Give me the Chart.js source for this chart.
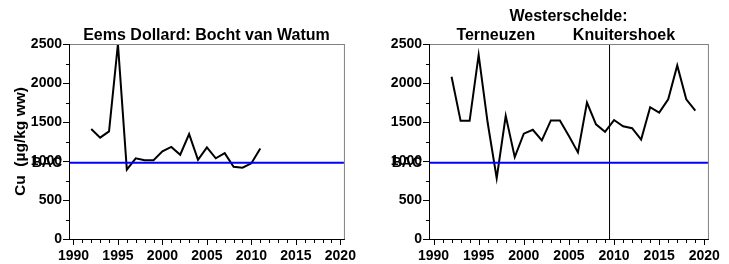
<!DOCTYPE html>
<html>
<head>
<meta charset="utf-8">
<script src="https://cdn.jsdelivr.net/npm/chart.js@4.4.0/dist/chart.umd.min.js"></script>
<style>
  body { margin: 0; background: #fff; width: 729px; height: 264px; overflow: hidden; position: relative; }
  canvas { position: absolute; top: 0; }
  #eemsChart { left: 0; }
  #wsChart { left: 365px; }
</style>
</head>
<body>
<canvas id="eemsChart" width="365" height="264"></canvas>
<canvas id="wsChart" width="364" height="264"></canvas>
<script>
// Eems Dollard: Bocht van Watum
const eemsYears = [1992, 1993, 1994, 1995, 1996, 1997, 1998, 1999, 2000, 2001,
                   2002, 2003, 2004, 2005, 2006, 2007, 2008, 2009, 2010, 2011];
const eemsCu = [1410, 1300, 1380, 2500, 890, 1035, 1010, 1010, 1125, 1180,
                1080, 1345, 1015, 1175, 1035, 1100, 925, 915, 970, 1160];

// Westerschelde: Terneuzen (tot 2009), Knuitershoek (vanaf 2010)
const wsYears = [1992, 1993, 1994, 1995, 1996, 1997, 1998, 1999, 2000, 2001,
                 2002, 2003, 2004, 2005, 2006, 2007, 2008, 2009, 2010, 2011,
                 2012, 2013, 2014, 2015, 2016, 2017, 2018, 2019];
const wsCu = [2080, 1515, 1515, 2360, 1490, 780, 1580, 1050, 1350, 1400,
              1265, 1520, 1520, 1320, 1110, 1750, 1470, 1375, 1525, 1445,
              1420, 1275, 1690, 1620, 1790, 2225, 1790, 1645];

const bacValue = 978;          // blue reference line (BAC)
const stationSwitch = 2009.5;  // Terneuzen -> Knuitershoek
const xTickLabels = [1990, 1995, 2000, 2005, 2010, 2015, 2020];
const yTickLabels = [0, 500, 1000, 1500, 2000, 2500];

const FONT = 'Liberation Sans, Arial, sans-serif';
const TICK_SIZE = 14;
const TITLE_SIZE = 16;
const X_MIN = 1989.5, X_MAX = 2020.4;

// frame, tick marks and text drawn on top of the chart area
const framePlugin = {
  id: 'frame',
  afterDraw(chart, args, opts) {
    const { ctx, chartArea: a, scales: { x, y } } = chart;
    ctx.save();
    ctx.lineWidth = 1;
    const seg = (x1, y1, x2, y2) => { ctx.beginPath(); ctx.moveTo(x1, y1); ctx.lineTo(x2, y2); ctx.stroke(); };

    ctx.strokeStyle = '#808080';
    seg(a.left, a.top + 0.5, a.right + 0.5, a.top + 0.5);
    seg(a.right + 0.5, a.top, a.right + 0.5, a.bottom);

    ctx.strokeStyle = '#000';
    seg(a.left + 0.5, a.top, a.left + 0.5, a.bottom + 1);
    seg(a.left, a.bottom + 0.5, a.right + 1, a.bottom + 0.5);

    x.ticks.forEach(t => {
      const px = Math.round(x.getPixelForValue(t.value)) + 0.5;
      const len = xTickLabels.includes(t.value) ? 5 : 3;
      seg(px, a.bottom, px, a.bottom + 1 + len);
    });
    y.ticks.forEach(t => {
      const py = Math.round(y.getPixelForValue(t.value)) + 0.5;
      const len = yTickLabels.includes(t.value) ? 6 : 3;
      seg(a.left - len, py, a.left, py);
    });

    ctx.fillStyle = '#000';
    ctx.textBaseline = 'middle';

    // BAC label overlapping the 1000 tick label
    ctx.font = 'bold ' + TICK_SIZE + 'px ' + FONT;
    ctx.textAlign = 'right';
    ctx.fillText('BAC', a.left - 7, y.getPixelForValue(bacValue));

    ctx.font = 'bold ' + TITLE_SIZE + 'px ' + FONT;
    ctx.textAlign = 'center';
    (opts.titles || []).forEach(t => {
      const tx = t.year != null ? x.getPixelForValue(t.year) : (a.left + a.right) / 2;
      ctx.fillText(t.text, tx, t.y);
    });
    ctx.restore();
  }
};

function makeChart(canvasId, years, values, cfg) {
  const canvas = document.getElementById(canvasId);
  const existing = Chart.getChart(canvas);
  if (existing) existing.destroy();

  const datasets = [
    {
      data: years.map((yr, i) => ({ x: yr, y: values[i] })),
      borderColor: '#000',
      borderWidth: 2,
      pointRadius: 0,
      tension: 0,
      order: 2
    },
    {
      data: [{ x: X_MIN, y: bacValue }, { x: X_MAX, y: bacValue }],
      borderColor: '#0000ff',
      borderWidth: 2,
      pointRadius: 0,
      order: 1
    }
  ];
  if (cfg.switchLine) {
    datasets.push({
      data: [{ x: stationSwitch, y: 0 }, { x: stationSwitch, y: 2500 }],
      borderColor: '#000',
      borderWidth: 1,
      pointRadius: 0,
      order: 3
    });
  }

  return new Chart(canvas, {
    type: 'line',
    data: { datasets },
    options: {
      responsive: false,
      animation: false,
      devicePixelRatio: 1,
      layout: { padding: { top: 44, right: cfg.padRight, left: 0, bottom: 0 } },
      plugins: {
        legend: { display: false },
        tooltip: { enabled: false },
        frame: { titles: cfg.titles }
      },
      scales: {
        x: {
          type: 'linear',
          min: X_MIN,
          max: X_MAX,
          afterBuildTicks: scale => {
            const ticks = [];
            for (let yr = 1990; yr <= 2020; yr++) ticks.push({ value: yr });
            scale.ticks = ticks;
          },
          afterFit: scale => { scale.height = 25; },
          grid: { display: false, drawTicks: false },
          border: { display: false },
          ticks: {
            autoSkip: false,
            maxRotation: 0,
            padding: 9,
            color: '#000',
            font: { family: FONT, size: TICK_SIZE, weight: 'bold' },
            callback: v => xTickLabels.includes(v) ? String(v) : ''
          }
        },
        y: {
          min: 0,
          max: 2500,
          afterBuildTicks: scale => {
            const ticks = [];
            for (let v = 0; v <= 2500; v += 250) ticks.push({ value: v });
            scale.ticks = ticks;
          },
          afterFit: scale => { scale.width = cfg.yWidth; },
          grid: { display: false, drawTicks: false },
          border: { display: false },
          title: {
            display: !!cfg.yTitle,
            text: cfg.yTitle || '',
            color: '#000',
            padding: { top: 11, bottom: 0 },
            font: { family: FONT, size: 15.5, weight: 'bold' }
          },
          ticks: {
            autoSkip: false,
            padding: 7,
            color: '#000',
            font: { family: FONT, size: TICK_SIZE, weight: 'bold' },
            callback: v => yTickLabels.includes(v) ? String(v) : ''
          }
        }
      }
    },
    plugins: [framePlugin]
  });
}

makeChart('eemsChart', eemsYears, eemsCu, {
  yWidth: 69,
  padRight: 5,
  yTitle: 'Cu  (µg/kg ww)',
  switchLine: false,
  titles: [{ text: 'Eems Dollard: Bocht van Watum', y: 36 }]
});

makeChart('wsChart', wsYears, wsCu, {
  yWidth: 64,
  padRight: 8,
  switchLine: true,
  titles: [
    { text: 'Westerschelde:', y: 17 },
    { text: 'Terneuzen', year: 1996.9, y: 36 },
    { text: 'Knuitershoek', year: 2011.1, y: 36 }
  ]
});
</script>
</body>
</html>
